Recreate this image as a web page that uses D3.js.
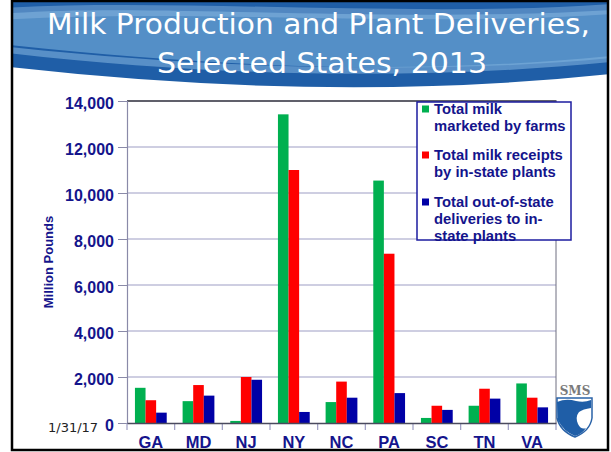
<!DOCTYPE html>
<html>
<head>
<meta charset="utf-8">
<script src="https://cdn.jsdelivr.net/npm/d3@7"></script>
<style>
  html, body { margin: 0; padding: 0; background: #fff; }
  svg { display: block; }
</style>
</head>
<body>
<svg id="chart" width="611" height="452"></svg>
<script>
const states = ["GA", "MD", "NJ", "NY", "NC", "PA", "SC", "TN", "VA"];
const marketedByFarms = [1530, 950, 90, 13420, 910, 10540, 220, 750, 1720];
const receiptsInState = [990, 1650, 2000, 11000, 1800, 7360, 750, 1490, 1100];
const outOfStateDeliveries = [450, 1190, 1880, 480, 1100, 1300, 570, 1060, 680];
const yTickValues = [0, 2000, 4000, 6000, 8000, 10000, 12000, 14000];
const seriesKeys = ["marketed", "receipts", "outOfState"];
const seriesColors = ["#00b050", "#ff0000", "#0000a6"];
const legendLines = [
  ["Total milk", "marketed by farms"],
  ["Total milk receipts", "by in-state plants"],
  ["Total out-of-state", "deliveries to in-", "state plants"]
];
const titleLines = ["Milk Production and Plant Deliveries,", "Selected States, 2013"];
const yAxisTitle = "Million Pounds";
const dateText = "1/31/17";

const seriesValues = [marketedByFarms, receiptsInState, outOfStateDeliveries];
const table = states.map((s, i) => ({
  state: s,
  values: seriesKeys.map((k, j) => ({ key: k, value: seriesValues[j][i], color: seriesColors[j] }))
}));

const svg = d3.select("#chart");
const navy = "#14148c";

svg.append("defs").append("clipPath").attr("id", "slide")
  .append("rect").attr("x", 12).attr("y", 1).attr("width", 596).attr("height", 449);

const slide = svg.append("g").attr("clip-path", "url(#slide)");

// ---- Banner ----
const banner = slide.append("g");
banner.append("path")
  .attr("d", "M0,0 H611 V74 Q330,104 0,66 Z")
  .attr("fill", "#1f5ea7");
banner.append("path")
  .attr("d", "M0,14 C150,2 380,24 611,10 V58 C450,74 230,70 0,44 Z")
  .attr("fill", "#5a95cb").attr("opacity", 0.9);
banner.append("path")
  .attr("d", "M0,8 C180,-2 420,18 611,4 V14 C420,28 180,8 0,20 Z")
  .attr("fill", "#8fbbe2").attr("opacity", 0.45);
banner.append("path")
  .attr("d", "M0,46 C220,70 430,74 611,56 V62 C430,80 220,78 0,52 Z")
  .attr("fill", "#7fb0dc").attr("opacity", 0.6);

banner.selectAll("text.title")
  .data(titleLines)
  .join("text")
  .attr("class", "title")
  .attr("x", (d, i) => i === 0 ? 318.5 : 322)
  .attr("y", (d, i) => i === 0 ? 34 : 72.5)
  .attr("text-anchor", "middle")
  .attr("font-family", "DejaVu Sans, Verdana, sans-serif")
  .attr("font-size", 28)
  .attr("fill", "#ffffff")
  .attr("textLength", (d, i) => i === 0 ? 543 : 330)
  .attr("lengthAdjust", "spacingAndGlyphs")
  .text(d => d);

// ---- Chart ----
const plotLeft = 127, plotRight = 556, plotTop = 101, plotBottom = 423;

const x0 = d3.scaleBand().domain(states).range([plotLeft, plotRight]).padding(0);
const x1 = d3.scaleBand().domain(seriesKeys).range([0, x0.bandwidth()])
  .paddingInner(0).paddingOuter(0.75);
const y = d3.scaleLinear().domain([0, 14000]).range([plotBottom, plotTop]);

const chart = slide.append("g");

chart.append("g")
  .selectAll("line")
  .data(yTickValues.filter(v => v > 0 && v < 14000))
  .join("line")
  .attr("x1", plotLeft).attr("x2", plotRight)
  .attr("y1", d => y(d)).attr("y2", d => y(d))
  .attr("stroke", "#9d9dc4").attr("stroke-width", 1);

chart.append("g")
  .selectAll("g")
  .data(table)
  .join("g")
  .attr("transform", d => `translate(${x0(d.state)},0)`)
  .selectAll("rect")
  .data(d => d.values)
  .join("rect")
  .attr("x", d => x1(d.key))
  .attr("width", x1.bandwidth())
  .attr("y", d => y(d.value))
  .attr("height", d => y(0) - y(d.value))
  .attr("fill", d => d.color);

chart.append("line")
  .attr("x1", plotLeft).attr("x2", plotRight + 0.5)
  .attr("y1", plotTop).attr("y2", plotTop)
  .attr("stroke", "#2b2b3a").attr("stroke-width", 1.5);
chart.append("line")
  .attr("x1", plotRight).attr("x2", plotRight)
  .attr("y1", plotTop).attr("y2", plotBottom)
  .attr("stroke", "#6f6f80").attr("stroke-width", 1);

const yAxis = d3.axisLeft(y).tickValues(yTickValues).tickSize(9).tickPadding(4)
  .tickFormat(d3.format(","));
const yg = chart.append("g").attr("transform", `translate(${plotLeft},0)`).call(yAxis);
yg.select(".domain").attr("stroke", "#8a8aa8").attr("stroke-width", 1.2);
yg.selectAll(".tick line").attr("stroke", "#8a8aa8");
yg.selectAll(".tick text")
  .attr("font-family", "Liberation Sans, Arial, sans-serif")
  .attr("font-weight", "bold")
  .attr("font-size", 16)
  .attr("fill", navy)
  .attr("dy", "0.45em");

const xAxis = d3.axisBottom(x0).tickSize(0).tickPadding(0);
const xg = svg.append("g").attr("transform", `translate(0,${plotBottom})`).call(xAxis);
xg.select(".domain").attr("stroke", "#4a4a5e").attr("stroke-width", 1.3);
xg.selectAll(".tick text")
  .attr("font-family", "Liberation Sans, Arial, sans-serif")
  .attr("font-weight", "bold")
  .attr("font-size", 16.5)
  .attr("fill", navy)
  .attr("y", 24.5)
  .attr("dy", 0);
chart.append("g")
  .selectAll("line")
  .data(states.map(s => x0(s)).concat([x0(states[states.length - 1]) + x0.bandwidth()]))
  .join("line")
  .attr("x1", d => d).attr("x2", d => d)
  .attr("y1", plotBottom).attr("y2", plotBottom + 7)
  .attr("stroke", "#9d9dc4").attr("stroke-width", 1.2);

chart.append("text")
  .attr("transform", `translate(53,${(plotTop + plotBottom) / 2}) rotate(-90)`)
  .attr("text-anchor", "middle")
  .attr("font-family", "Liberation Sans, Arial, sans-serif")
  .attr("font-weight", "bold")
  .attr("font-size", 13)
  .attr("fill", navy)
  .text(yAxisTitle);

slide.append("text")
  .attr("x", 48).attr("y", 432)
  .attr("font-family", "DejaVu Sans, Tahoma, sans-serif")
  .attr("font-size", 13)
  .attr("fill", "#222")
  .text(dateText);

// ---- Legend ----
const legend = slide.append("g");
legend.append("rect")
  .attr("x", 417).attr("y", 102).attr("width", 154).attr("height", 138)
  .attr("fill", "#ffffff").attr("stroke", "#1c1ca0").attr("stroke-width", 1.5);
const baselines = [[114, 131], [160, 177], [207, 224, 241]];
const items = legend.selectAll("g.item")
  .data(legendLines)
  .join("g").attr("class", "item");
items.append("rect")
  .attr("x", 422).attr("y", (d, i) => baselines[i][0] - 8.5)
  .attr("width", 7).attr("height", 7)
  .attr("fill", (d, i) => seriesColors[i]);
items.each(function (lines, i) {
  d3.select(this).selectAll("text")
    .data(lines)
    .join("text")
    .attr("x", 434)
    .attr("y", (t, j) => baselines[i][j])
    .attr("font-family", "Liberation Sans, Arial, sans-serif")
    .attr("font-weight", "bold")
    .attr("font-size", 14.8)
    .attr("fill", navy)
    .text(t => t);
});

// ---- SMS logo ----
const logo = slide.append("g");
logo.append("text")
  .attr("x", 575).attr("y", 395)
  .attr("text-anchor", "middle")
  .attr("font-family", "DejaVu Serif, Liberation Serif, serif")
  .attr("font-weight", "bold")
  .attr("font-size", 12)
  .attr("fill", "#7a7a7a")
  .text("SMS");
logo.append("path")
  .attr("d", "M557,398 H592 V418 Q590,431 575,437 Q560,431 557,418 Z")
  .attr("fill", "#ffffff").attr("stroke", "#2a63a8").attr("stroke-width", 1.5);
logo.append("path")
  .attr("d", "M557,402 Q566,398 576,401 Q584,403 591,400 L591,408 Q583,409 579,412 Q575,417 578,424 Q581,430 586,428 Q582,434 575,436 Q563,431 558,420 Z")
  .attr("fill", "#1f5ea7");

// ---- Slide frame ----
svg.append("rect")
  .attr("x", 12).attr("y", 1).attr("width", 596).attr("height", 449)
  .attr("fill", "none").attr("stroke", "#000").attr("stroke-width", 2.5);
</script>
</body>
</html>
